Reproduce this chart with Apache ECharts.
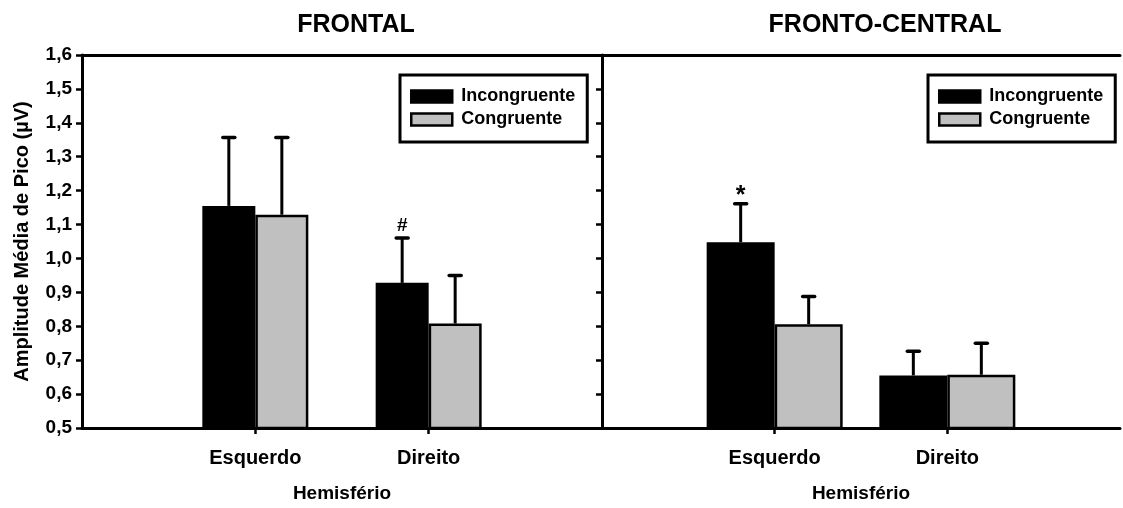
<!DOCTYPE html>
<html>
<head>
<meta charset="utf-8">
<script src="https://cdn.jsdelivr.net/npm/echarts@6/dist/echarts.min.js"></script>
<style>
  html, body { margin: 0; padding: 0; background: #fff; }
  #chart { width: 1123px; height: 508px; }
</style>
</head>
<body>
<div id="chart"></div>
<script>
// Hemisphere categories, condition names and panel titles
const hemispheres = ['Esquerdo', 'Direito'];
const conditions = ['Incongruente', 'Congruente'];
const panelTitles = ['FRONTAL', 'FRONTO-CENTRAL'];

// Mean peak amplitude (µV) and upper error (SD) per hemisphere
const frontalIncong = [1.155, 0.928];
const frontalIncongErr = [0.202, 0.132];
const frontalCong = [1.129, 0.808];
const frontalCongErr = [0.228, 0.142];

const frontoCentralIncong = [1.048, 0.655];
const frontoCentralIncongErr = [0.113, 0.071];
const frontoCentralCong = [0.806, 0.657];
const frontoCentralCongErr = [0.082, 0.093];

// Significance marks above the Incongruente bars
const frontalMarks = ['', '#'];
const frontoCentralMarks = ['*', ''];

// Value axis range
const yMin = 0.5, yMax = 1.6, yStep = 0.1;

const FONT = '"Liberation Sans", Arial, Helvetica, sans-serif';
const BLACK = '#000000';
const GRAY = '#c0c0c0';

// Empty slots at both ends put the two groups at 1/3 and 2/3 of each panel
const catAxisData = ['', ...hemispheres, ''];
const pad = arr => [null, ...arr, null];

const panels = [
  { title: panelTitles[0], left: 82, width: 520, barW: 53, titleX: 351, legendLeft: 400,
    inc: frontalIncong, incErr: frontalIncongErr, cong: frontalCong, congErr: frontalCongErr,
    marks: frontalMarks, yLabels: true },
  { title: panelTitles[1], left: 602, width: 522, barW: 68, titleX: 880, legendLeft: 928,
    inc: frontoCentralIncong, incErr: frontoCentralIncongErr, cong: frontoCentralCong, congErr: frontoCentralCongErr,
    marks: frontoCentralMarks, yLabels: false }
];

const boldText = size => ({ fontSize: size, fontWeight: 'bold', color: BLACK, fontFamily: FONT });

const grid = [], xAxis = [], yAxis = [], series = [], legend = [], title = [];

panels.forEach((p, i) => {
  grid.push({ left: p.left, top: 55, width: p.width, height: 375, containLabel: false });

  // bottom category axis
  xAxis.push({
    gridIndex: i, type: 'category', data: catAxisData, boundaryGap: false, position: 'bottom',
    axisLine: { show: true, onZero: false, lineStyle: { color: BLACK, width: 3 } },
    axisTick: {
      show: true, length: 6, lineStyle: { color: BLACK, width: 2.5 },
      interval: idx => idx > 0 && idx < catAxisData.length - 1
    },
    axisLabel: Object.assign({ interval: 0, margin: 20 }, boldText(20)),
    splitLine: { show: false },
    name: 'Hemisfério', nameLocation: 'middle', nameGap: 56,
    nameTextStyle: boldText(19)
  });
  // top frame line
  xAxis.push({
    gridIndex: i, type: 'category', data: catAxisData, boundaryGap: false, position: 'top',
    axisLine: { show: true, onZero: false, lineStyle: { color: BLACK, width: 3 } },
    axisTick: { show: false }, axisLabel: { show: false }, splitLine: { show: false }
  });

  yAxis.push({
    gridIndex: i, type: 'value', min: yMin, max: yMax, interval: yStep, position: 'left',
    axisLine: { show: true, onZero: false, lineStyle: { color: BLACK, width: 3 } },
    axisTick: { show: true, inside: false, length: 6, lineStyle: { color: BLACK, width: 2.5 } },
    axisLabel: Object.assign({
      show: p.yLabels, margin: 10,
      formatter: v => v.toFixed(1).replace('.', ',')
    }, boldText(19)),
    splitLine: { show: false },
    name: p.yLabels ? 'Amplitude Média de Pico (µV)' : '',
    nameLocation: 'middle', nameRotate: 90, nameGap: 50,
    nameTextStyle: boldText(20)
  });

  const barCommon = {
    type: 'bar', xAxisIndex: 2 * i, yAxisIndex: i, barWidth: p.barW, barGap: '0%',
    animation: false, silent: true
  };
  series.push(Object.assign({}, barCommon, {
    name: conditions[0], data: pad(p.inc),
    itemStyle: { color: BLACK, borderColor: BLACK, borderWidth: 2.5 }
  }));
  series.push(Object.assign({}, barCommon, {
    name: conditions[1], data: pad(p.cong),
    itemStyle: { color: GRAY, borderColor: BLACK, borderWidth: 2.5 }
  }));

  // upper error bars: [category index, mean, error, side]
  const errData = [];
  p.inc.forEach((v, k) => errData.push([k + 1, v, p.incErr[k], 0]));
  p.cong.forEach((v, k) => errData.push([k + 1, v, p.congErr[k], 1]));
  const marks = [...p.marks, ...p.marks.map(() => '')];

  series.push({
    type: 'custom', xAxisIndex: 2 * i, yAxisIndex: i, z: 5, silent: true, animation: false,
    data: errData, encode: { x: 0, y: 1 },
    renderItem: (params, api) => {
      const cat = api.value(0), val = api.value(1), err = api.value(2), side = api.value(3);
      const base = api.coord([cat, val]);
      const top = api.coord([cat, val + err]);
      const x = base[0] + (side === 0 ? -0.5 : 0.5) * p.barW;
      const children = [
        { type: 'line', shape: { x1: x, y1: base[1], x2: x, y2: top[1] },
          style: { stroke: BLACK, lineWidth: 3 } },
        { type: 'line', shape: { x1: x - 6, y1: top[1], x2: x + 6, y2: top[1] },
          style: { stroke: BLACK, lineWidth: 3.5, lineCap: 'round' } }
      ];
      const mark = marks[params.dataIndex];
      if (mark) {
        const star = mark === '*';
        children.push({
          type: 'text', x: x, y: top[1] + (star ? 5 : -3),
          style: { text: mark, align: 'center', verticalAlign: 'bottom',
                   fontSize: star ? 25 : 19, fontWeight: 'bold', fontFamily: FONT, fill: BLACK }
        });
      }
      return { type: 'group', children };
    }
  });

  legend.push({
    left: p.legendLeft, top: 75, orient: 'vertical', selectedMode: false, icon: 'rect',
    data: [
      { name: conditions[0], itemStyle: { color: BLACK, borderColor: BLACK, borderWidth: 2.5 } },
      { name: conditions[1], itemStyle: { color: GRAY, borderColor: BLACK, borderWidth: 2.5 } }
    ],
    itemWidth: 41, itemHeight: 12, itemGap: 4,
    padding: [12, 12, 13, 10],
    borderColor: BLACK, borderWidth: 3, borderRadius: 0, backgroundColor: '#fff',
    textStyle: Object.assign({ lineHeight: 19, padding: [0, 0, 0, 4] }, boldText(18))
  });

  title.push({
    text: p.title, left: p.titleX, top: 8, textAlign: 'center',
    textStyle: boldText(25)
  });
});

const chart = echarts.init(document.getElementById('chart'), null, { renderer: 'canvas' });
chart.setOption({
  backgroundColor: '#ffffff',
  animation: false,
  title, legend, grid, xAxis, yAxis, series
});
</script>
</body>
</html>
